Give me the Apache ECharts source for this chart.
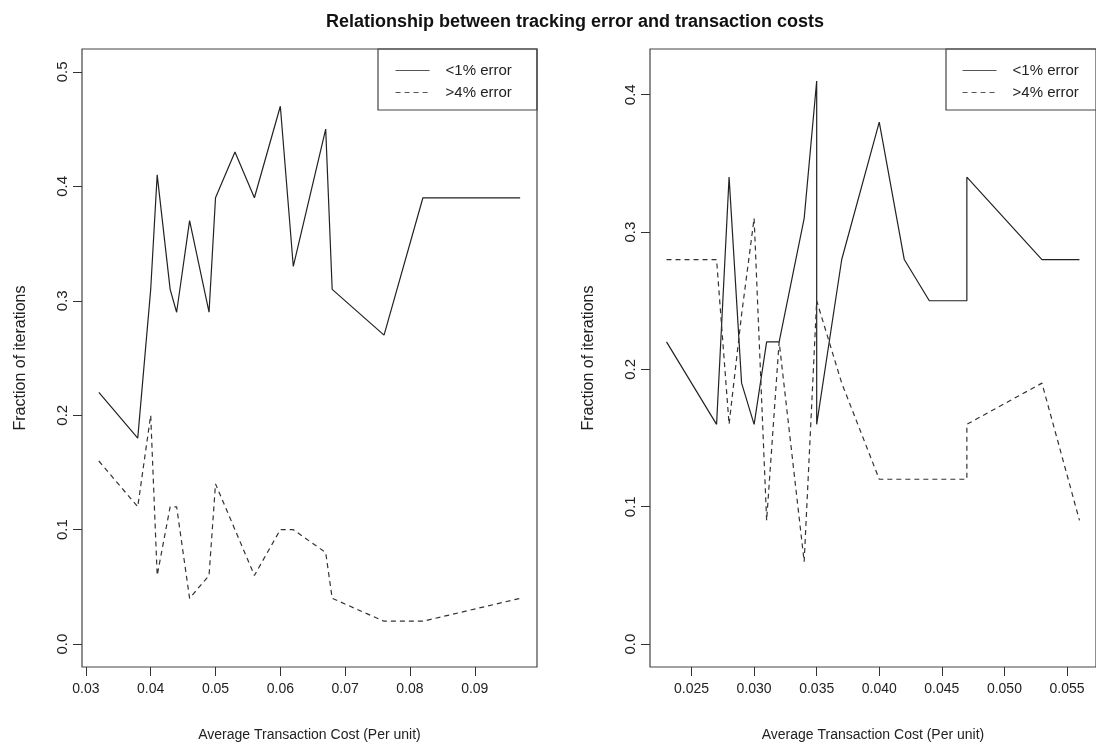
<!DOCTYPE html>
<html>
<head>
<meta charset="utf-8">
<script src="https://cdn.jsdelivr.net/npm/echarts@6/dist/echarts.min.js"></script>
<style>
  html, body { margin: 0; padding: 0; background: #fff; overflow: hidden; }
  #chart { width: 1096px; height: 750px; }
</style>
</head>
<body>
<div id="chart"></div>
<script>
// left panel data
const costLeft = [0.032, 0.038, 0.040, 0.041, 0.043, 0.044, 0.046, 0.049, 0.050, 0.053, 0.056, 0.060, 0.062, 0.067, 0.068, 0.076, 0.082, 0.097]
const lowErrLeft = [0.22, 0.18, 0.31, 0.41, 0.31, 0.29, 0.37, 0.29, 0.39, 0.43, 0.39, 0.47, 0.33, 0.45, 0.31, 0.27, 0.39, 0.39]
const highErrLeft = [0.16, 0.12, 0.20, 0.06, 0.12, 0.12, 0.04, 0.06, 0.14, 0.10, 0.06, 0.10, 0.10, 0.08, 0.04, 0.02, 0.02, 0.04]
const xTicksLeft = [0.03, 0.04, 0.05, 0.06, 0.07, 0.08, 0.09]
const yTicksLeft = [0.0, 0.1, 0.2, 0.3, 0.4, 0.5]

// right panel data
const costRight = [0.023, 0.027, 0.028, 0.029, 0.030, 0.031, 0.032, 0.034, 0.035, 0.035, 0.037, 0.040, 0.042, 0.044, 0.047, 0.047, 0.053, 0.056]
const lowErrRight = [0.22, 0.16, 0.34, 0.19, 0.16, 0.22, 0.22, 0.31, 0.41, 0.16, 0.28, 0.38, 0.28, 0.25, 0.25, 0.34, 0.28, 0.28]
const highErrRight = [0.28, 0.28, 0.16, 0.24, 0.31, 0.09, 0.22, 0.06, 0.25, 0.25, 0.19, 0.12, 0.12, 0.12, 0.12, 0.16, 0.19, 0.09]
const xTicksRight = [0.025, 0.030, 0.035, 0.040, 0.045, 0.050, 0.055]
const yTicksRight = [0.0, 0.1, 0.2, 0.3, 0.4]

const seriesNames = ['<1% error', '>4% error']
const font = 'Liberation Sans, Arial, sans-serif'
const ink = '#222'

const pairs = (xs, ys) => xs.map((x, i) => [x, ys[i]])

// one R-style value axis, box comes from the grid border
const xAxisFor = (idx, min, max, ticks, digits) => ({
  type: 'value', gridIndex: idx, min: min, max: max,
  name: 'Average Transaction Cost (Per unit)',
  nameLocation: 'middle', nameGap: 61,
  nameTextStyle: { fontSize: 14, color: ink, fontFamily: font },
  axisLine: { show: false, onZero: false },
  axisTick: { show: true, length: 9, customValues: ticks, lineStyle: { color: '#333', width: 1 } },
  axisLabel: { customValues: ticks, margin: 15, fontSize: 14, color: ink, fontFamily: font,
    formatter: v => v.toFixed(digits) },
  splitLine: { show: false }
})
const yAxisFor = (idx, min, max, ticks) => ({
  type: 'value', gridIndex: idx, min: min, max: max,
  name: 'Fraction of iterations',
  nameLocation: 'middle', nameGap: 53,
  nameTextStyle: { fontSize: 16, color: ink, fontFamily: font },
  axisLine: { show: false, onZero: false },
  axisTick: { show: true, length: 9, customValues: ticks, lineStyle: { color: '#333', width: 1 } },
  axisLabel: { customValues: ticks, rotate: 90, margin: 12, fontSize: 15, color: ink, fontFamily: font,
    formatter: v => v.toFixed(1) },
  splitLine: { show: false }
})

const lineSeries = (name, idx, data, dashed) => ({
  name: name, type: 'line', xAxisIndex: idx, yAxisIndex: idx,
  data: data, symbol: 'none', silent: true, animation: false,
  itemStyle: { color: '#222', opacity: 0 },
  lineStyle: { color: dashed ? '#333' : '#222', width: 1.2, type: dashed ? [5, 4] : 'solid' }
})

const legendAt = (left, top) => ({
  data: seriesNames, orient: 'vertical', left: left, top: top,
  itemWidth: 34, itemHeight: 14, itemGap: 7, padding: 0,
  selectedMode: false,
  itemStyle: { opacity: 0 },
  lineStyle: { width: 1.1, color: '#555' },
  textStyle: { fontSize: 15, color: ink, fontFamily: font, padding: [0, 0, 0, 11] }
})

const chart = echarts.init(document.getElementById('chart'), null, { renderer: 'canvas' })
chart.setOption({
  backgroundColor: '#fff',
  animation: false,
  title: {
    text: 'Relationship between tracking error and transaction costs',
    left: 570, top: 8, textAlign: 'center',
    textStyle: { fontSize: 18, fontWeight: 'bold', color: '#111', fontFamily: font }
  },
  grid: [
    { left: 82, top: 49, width: 455, height: 618, show: true, borderColor: '#444', borderWidth: 1.2, backgroundColor: 'transparent' },
    { left: 650, top: 49, width: 454, height: 618, show: true, borderColor: '#444', borderWidth: 1.2, backgroundColor: 'transparent' }
  ],
  xAxis: [
    xAxisFor(0, 0.0294, 0.0996, xTicksLeft, 2),
    xAxisFor(1, 0.02168, 0.05732, xTicksRight, 3)
  ],
  yAxis: [
    yAxisFor(0, -0.02, 0.52, yTicksLeft),
    yAxisFor(1, -0.0167, 0.4333, yTicksRight)
  ],
  legend: [legendAt(395, 63), legendAt(962, 63)],
  graphic: [
    { type: 'rect', shape: { x: 378, y: 49, width: 159, height: 61 }, style: { fill: 'none', stroke: '#444', lineWidth: 1.2 }, silent: true },
    { type: 'rect', shape: { x: 946, y: 49, width: 170, height: 61 }, style: { fill: 'none', stroke: '#444', lineWidth: 1.2 }, silent: true }
  ],
  series: [
    lineSeries(seriesNames[0], 0, pairs(costLeft, lowErrLeft), false),
    lineSeries(seriesNames[1], 0, pairs(costLeft, highErrLeft), true),
    lineSeries(seriesNames[0], 1, pairs(costRight, lowErrRight), false),
    lineSeries(seriesNames[1], 1, pairs(costRight, highErrRight), true)
  ]
})
</script>
</body>
</html>
